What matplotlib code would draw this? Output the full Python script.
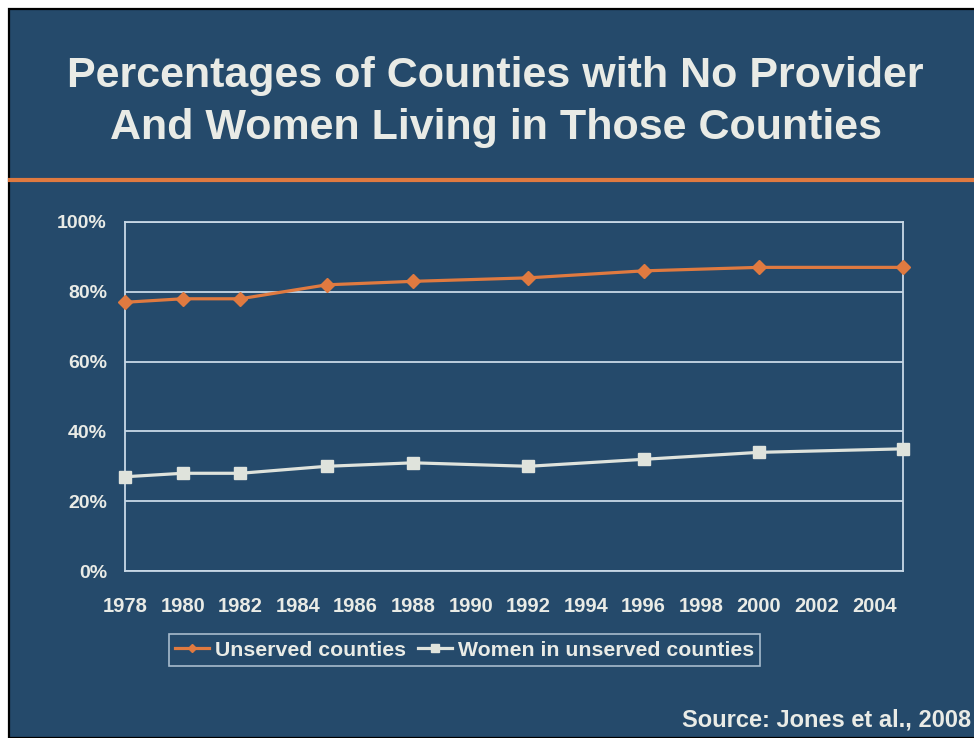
import matplotlib.pyplot as plt
from matplotlib.patches import Rectangle
from matplotlib.ticker import FuncFormatter

# ── Data ──────────────────────────────────────────────────────────────────────
YEARS = [1978, 1980, 1982, 1985, 1988, 1992, 1996, 2000, 2005]
UNSERVED = [77, 78, 78, 82, 83, 84, 86, 87, 87]
WOMEN = [27, 28, 28, 30, 31, 30, 32, 34, 35]
XTICKS = list(range(1978, 2005, 2))
YTICKS = [0, 20, 40, 60, 80, 100]

BG = '#254a6b'
ORANGE = '#e07a40'
LIGHT = '#dfe3dc'
GRID = '#c8d8e6'
TEXT = '#e9ebe6'

plt.rcParams['font.family'] = ['Liberation Sans', 'DejaVu Sans']
plt.rcParams['font.weight'] = 'bold'

W, H = 974, 738
fig = plt.figure(figsize=(W / 100, H / 100), dpi=100)
fig.patch.set_facecolor('white')

# slide background with thin black edge
fig.patches.append(Rectangle((9 / W, 0), 1, 1 - 9 / H, transform=fig.transFigure,
                             facecolor=BG, edgecolor='black', lw=1.6, zorder=-2))
# orange rule under the title
fig.add_artist(plt.Line2D([10 / W, 1], [1 - 180 / H] * 2, transform=fig.transFigure,
                          color=ORANGE, lw=3, zorder=-1))

fig.text(0.509, 1 - 76 / H, "Percentages of Counties with No Provider",
         ha='center', va='center', fontsize=31, color=TEXT, weight='bold')
fig.text(0.509, 1 - 128 / H, "And Women Living in Those Counties",
         ha='center', va='center', fontsize=31, color=TEXT, weight='bold')

ax = fig.add_axes([125 / W, 1 - 571 / H, (903 - 125) / W, (571 - 222) / H])
ax.set_zorder(2)
ax.set_facecolor(BG)
for s in ax.spines.values():
    s.set_color(GRID)
    s.set_linewidth(1.3)

ax.plot(YEARS, UNSERVED, color=ORANGE, lw=2.3, marker='D', ms=7.5,
        label='Unserved counties', clip_on=False, zorder=4)
ax.plot(YEARS, WOMEN, color=LIGHT, lw=2.3, marker='s', ms=9,
        label='Women in unserved counties', clip_on=False, zorder=4)

ax.set_xlim(1978, 2005)
ax.set_ylim(0, 100)
ax.set_xticks(XTICKS)
ax.set_yticks(YTICKS)
ax.yaxis.set_major_formatter(FuncFormatter(lambda v, p: f"{v:.0f}%"))
ax.grid(axis='y', color=GRID, lw=1.3)
ax.tick_params(length=0, colors=TEXT, labelsize=14)
ax.tick_params(axis='x', pad=19, labelsize=14.5)
ax.tick_params(axis='y', pad=13)
for lab in ax.get_xticklabels() + ax.get_yticklabels():
    lab.set_fontweight('bold')

leg = ax.legend(loc='center', bbox_to_anchor=(464.5 / W, 1 - 650 / H),
                bbox_transform=fig.transFigure, ncol=2, frameon=True, fontsize=15.3,
                handlelength=1.6, handletextpad=0.25, columnspacing=0.6,
                borderpad=0.3, borderaxespad=0, markerscale=0.6, fancybox=False)
leg.get_frame().set_facecolor(BG)
leg.get_frame().set_edgecolor(GRID)
leg.get_frame().set_linewidth(1.2)
for t in leg.get_texts():
    t.set_color(TEXT)
    t.set_fontweight('bold')

fig.text(971 / W, 1 - 720 / H, "Source: Jones et al., 2008", ha='right', va='center',
         fontsize=17, color=TEXT, weight='bold')

fig.savefig('out.png', dpi=100, facecolor=fig.get_facecolor())
